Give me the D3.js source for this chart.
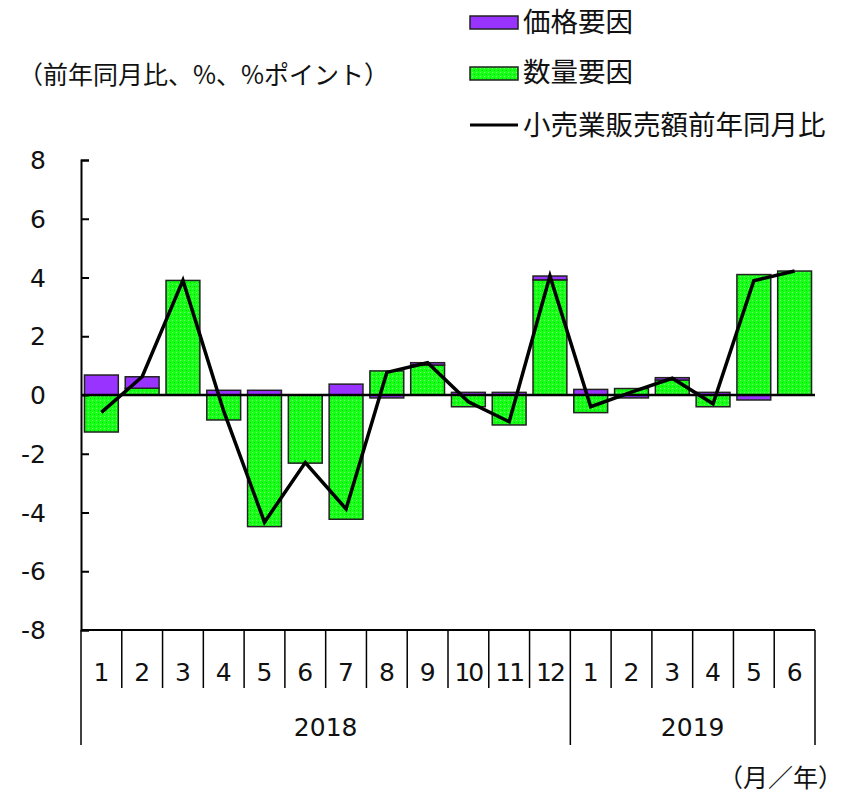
<!DOCTYPE html>
<html>
<head>
<meta charset="utf-8">
<script src="https://cdn.jsdelivr.net/npm/d3@7"></script>
<style>
body { margin: 0; background: #fff; }
svg text { fill: #111; }
</style>
</head>
<body>
<svg width="843" height="793"></svg>
<script>
var months = ["1","2","3","4","5","6","7","8","9","10","11","12","1","2","3","4","5","6"];
var years = [{label: "2018", from: 0, to: 12}, {label: "2019", from: 12, to: 18}];
var price = [0.68, 0.39, 0, 0.16, 0.16, 0, 0.37, -0.1, 0.08, 0.09, 0.09, 0.13, 0.19, -0.1, 0.08, 0.09, -0.17, 0];
var qty = [-1.26, 0.23, 3.9, -0.85, -4.48, -2.32, -4.23, 0.82, 1.02, -0.4, -1.02, 3.92, -0.6, 0.22, 0.51, -0.4, 4.1, 4.22];
var total = [-0.59, 0.62, 3.9, -0.55, -4.33, -2.3, -3.88, 0.77, 1.1, -0.23, -0.91, 4.05, -0.4, 0.1, 0.57, -0.3, 3.89, 4.22];
var yTicks = [-8, -6, -4, -2, 0, 2, 4, 6, 8];

var svg = d3.select("svg");
var plotLeft = 81, plotRight = 815, plotTop = 160, plotBottom = 630;
var num = "Verdana, DejaVu Sans, sans-serif";
var jp = "'Noto Sans CJK JP', sans-serif";

var x = d3.scaleBand().domain(d3.range(months.length)).range([plotLeft, plotRight]).paddingInner(0.17).paddingOuter(0.085);
var xb = d3.scaleLinear().domain([0, months.length]).range([plotLeft, plotRight]);
var y = d3.scaleLinear().domain([-8, 8]).range([plotBottom, plotTop]);

// green dotted pattern
var defs = svg.append("defs");
var pat = defs.append("pattern").attr("id", "dots").attr("width", 4).attr("height", 4).attr("patternUnits", "userSpaceOnUse");
pat.append("rect").attr("width", 4).attr("height", 4).attr("fill", "#18ff18");
pat.append("rect").attr("x", 0).attr("y", 0).attr("width", 1).attr("height", 1).attr("fill", "#7cff7c");
pat.append("rect").attr("x", 2).attr("y", 2).attr("width", 1).attr("height", 1).attr("fill", "#00d400");

var rows = months.map(function(m, i) { return {i: i, qty: qty[i], price: price[i]}; });
var stack = d3.stack().keys(["qty", "price"]).offset(d3.stackOffsetDiverging);
var series = stack(rows);
var fills = {qty: "url(#dots)", price: "#9933ff"};

svg.append("g").selectAll("g").data(series).enter().append("g")
  .attr("fill", function(d) { return fills[d.key]; })
  .selectAll("rect").data(function(d) { return d.filter(function(p) { return p[1] - p[0] !== 0; }); })
  .enter().append("rect")
  .attr("x", function(d) { return x(d.data.i); })
  .attr("width", x.bandwidth())
  .attr("y", function(d) { return y(Math.max(d[0], d[1])); })
  .attr("height", function(d) { return Math.abs(y(d[0]) - y(d[1])); })
  .attr("stroke", "#222")
  .attr("stroke-width", 1.5);

// y axis
var yAxis = svg.append("g").attr("transform", "translate(" + plotLeft + ",0)")
  .call(d3.axisRight(y).tickValues(yTicks).tickSize(8).tickFormat(""));
yAxis.select(".domain").attr("stroke", "#000").attr("stroke-width", 2);
yAxis.selectAll(".tick line").attr("stroke", "#000").attr("stroke-width", 2);
svg.append("g").selectAll("text").data(yTicks).enter().append("text")
  .attr("x", 46).attr("y", function(d) { return y(d); }).attr("dy", "0.36em")
  .attr("text-anchor", "end").attr("font-family", num).attr("font-size", 25)
  .text(function(d) { return d; });

// zero line
svg.append("line").attr("x1", plotLeft).attr("x2", plotRight).attr("y1", y(0)).attr("y2", y(0))
  .attr("stroke", "#000").attr("stroke-width", 2.5);

// bottom axis
svg.append("line").attr("x1", plotLeft).attr("x2", plotRight).attr("y1", plotBottom).attr("y2", plotBottom)
  .attr("stroke", "#000").attr("stroke-width", 2);
var bounds = d3.range(months.length + 1);
var yearEdges = [0, 12, 18];
svg.append("g").selectAll("line").data(bounds).enter().append("line")
  .attr("x1", function(d) { return xb(d); }).attr("x2", function(d) { return xb(d); })
  .attr("y1", plotBottom).attr("y2", function(d) { return yearEdges.indexOf(d) >= 0 ? 745 : 688; })
  .attr("stroke", "#000").attr("stroke-width", 1.5);
svg.append("g").selectAll("text").data(months).enter().append("text")
  .attr("x", function(d, i) { return xb(i + 0.5); }).attr("y", 672).attr("dy", "0.36em")
  .attr("text-anchor", "middle").attr("font-family", num).attr("font-size", 25)
  .attr("letter-spacing", function(d) { return d.length > 1 ? -2 : 0; })
  .text(function(d) { return d; });
svg.append("g").selectAll("text").data(years).enter().append("text")
  .attr("x", function(d) { return xb((d.from + d.to) / 2); }).attr("y", 727).attr("dy", "0.36em")
  .attr("text-anchor", "middle").attr("font-family", num).attr("font-size", 25)
  .text(function(d) { return d.label; });

// total line
var line = d3.line().x(function(d, i) { return x(i) + x.bandwidth() / 2; }).y(function(d) { return y(d); });
svg.append("path").datum(total).attr("d", line).attr("fill", "none")
  .attr("stroke", "#000").attr("stroke-width", 3.5).attr("stroke-linejoin", "miter");

// texts
svg.append("text").attr("x", 18).attr("y", 75).attr("dy", "0.36em")
  .attr("font-family", jp).attr("font-size", 25).text("（前年同月比、%、%ポイント）");
svg.append("text").attr("x", 843).attr("y", 778).attr("dy", "0.36em").attr("text-anchor", "end")
  .attr("font-family", jp).attr("font-size", 25).text("（月／年）");

// legend
var legend = svg.append("g");
legend.append("rect").attr("x", 470).attr("y", 16).attr("width", 48).attr("height", 13)
  .attr("fill", "#9933ff").attr("stroke", "#222").attr("stroke-width", 1.5);
legend.append("text").attr("x", 523).attr("y", 22).attr("dy", "0.36em").attr("font-family", jp).attr("font-size", 27.5).text("価格要因");
legend.append("rect").attr("x", 470).attr("y", 67).attr("width", 48).attr("height", 13)
  .attr("fill", "url(#dots)").attr("stroke", "#222").attr("stroke-width", 1.5);
legend.append("text").attr("x", 523).attr("y", 72).attr("dy", "0.36em").attr("font-family", jp).attr("font-size", 27.5).text("数量要因");
legend.append("line").attr("x1", 470).attr("x2", 518).attr("y1", 125).attr("y2", 125).attr("stroke", "#000").attr("stroke-width", 3);
legend.append("text").attr("x", 523).attr("y", 125).attr("dy", "0.36em").attr("font-family", jp).attr("font-size", 27.5).text("小売業販売額前年同月比");
</script>
</body>
</html>
